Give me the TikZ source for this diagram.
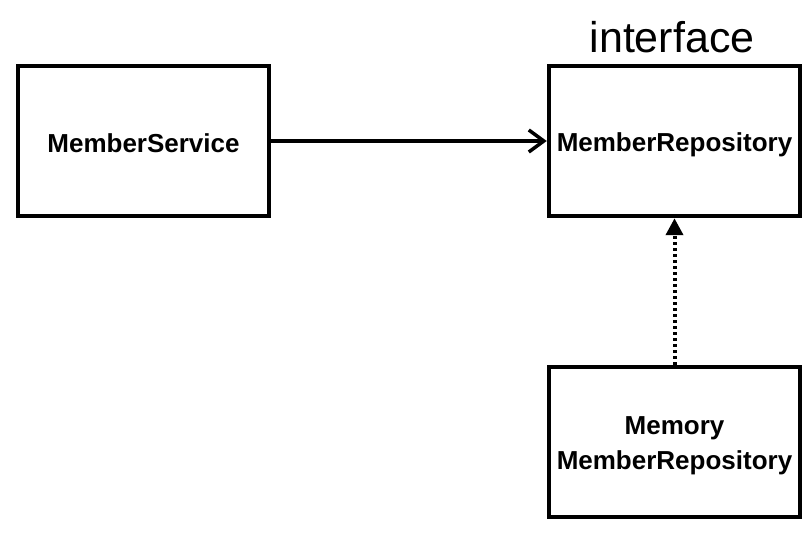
\documentclass[tikz,border=0pt]{standalone}
\usepackage{fontspec}
\setmainfont{Liberation Sans}
\usetikzlibrary{arrows.meta}
\begin{document}
\begin{tikzpicture}[x=1pt,y=-1pt,
  box/.style={draw=black, line width=4.5pt, minimum width=251pt, minimum height=150pt, inner sep=0pt},
  boxtext/.style={font=\fontsize{26}{35}\selectfont\bfseries, align=center, inner sep=0pt},
  solidarrow/.style={line width=3.5pt, -{Straight Barb[length=15pt,width=22pt,line width=3.5pt]}},
  dotarrow/.style={line width=4pt, dash pattern=on 3pt off 3pt, -{Triangle[length=17pt,width=17pt]}}]
\useasboundingbox (0,0) rectangle (810,534);
\node[box] (svc) at (143.5,141) {};
\node[box] (repo) at (674.5,141) {};
\node[box] (mem) at (674.5,442) {};
\node[boxtext] (svct) at ([yshift=-2pt]svc.center) {MemberService};
\node[boxtext] (repot) at ([yshift=-4pt]repo.center) {MemberRepository};
\node[boxtext] (memt) at ([yshift=-4pt]mem.center) {Memory\\MemberRepository};
\node[font=\fontsize{43}{43}\selectfont, anchor=base] (intf) at (672,53) {interface};
\draw[solidarrow] (svc.east) -- (repo.west);
\draw[dotarrow] (mem.north) -- (repo.south);
\end{tikzpicture}
\end{document}
